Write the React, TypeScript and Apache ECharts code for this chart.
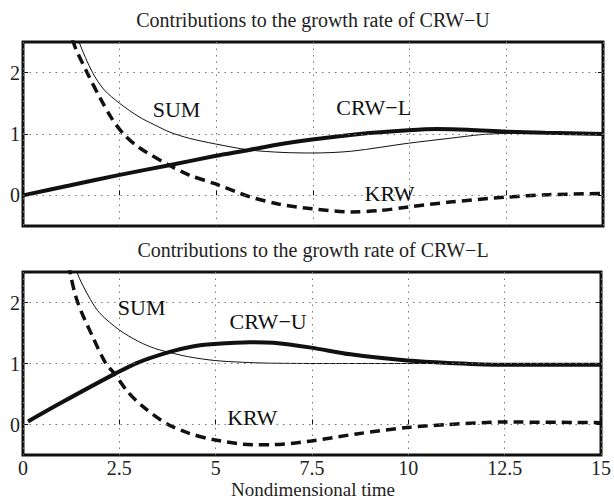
import React, { useEffect, useRef } from "react";
import * as echarts from "echarts";

const X_MIN = 0;
const X_MAX = 15;
const X_STEP = 2.5;
const Y_MIN = -0.5;
const Y_MAX = 2.5;
const Y_TICKS = [0, 1, 2];

const TITLES = [
  "Contributions to the growth rate of CRW\u2212U",
  "Contributions to the growth rate of CRW\u2212L",
];
const X_NAME = "Nondimensional time";

// top panel (growth rate of CRW-U)
const topSum: [number, number][] = [
  [1.15, 3.1], [1.45, 2.5], [1.8, 2.0], [2.1, 1.72], [2.5, 1.5], [3.0, 1.28],
  [3.4, 1.15], [3.8, 1.03], [4.3, 0.93], [4.96, 0.84], [5.85, 0.74], [6.7, 0.7],
  [7.48, 0.69], [8.5, 0.72], [9.97, 0.85], [11.04, 0.93], [11.85, 0.99],
  [12.48, 1.01], [13.5, 1.02], [15, 1.0],
];
const topKrw: [number, number][] = [
  [1.0, 3.3], [1.3, 2.5], [1.66, 2.0], [2.0, 1.58], [2.3, 1.25], [2.6, 1.0],
  [3.0, 0.78], [3.78, 0.49], [4.3, 0.33], [4.96, 0.19], [5.85, -0.02],
  [6.6, -0.14], [7.48, -0.22], [8.5, -0.27], [9.2, -0.25], [9.97, -0.19],
  [11.04, -0.11], [12.48, -0.03], [13.58, 0.01], [15, 0.03],
];
const topCrw: [number, number][] = [
  [0, 0], [1.2, 0.16], [2.47, 0.33], [3.78, 0.49], [4.96, 0.64], [5.85, 0.74],
  [6.6, 0.83], [7.48, 0.91], [8.7, 1.0], [9.97, 1.06], [10.7, 1.08],
  [11.5, 1.07], [12.48, 1.04], [13.5, 1.02], [15, 1.0],
];

// bottom panel (growth rate of CRW-L)
const botSum: [number, number][] = [
  [1.2, 3.1], [1.4, 2.5], [1.75, 2.05], [2.0, 1.82], [2.5, 1.55], [3.0, 1.36],
  [3.41, 1.25], [3.81, 1.18], [4.3, 1.11], [4.96, 1.05], [5.7, 1.02],
  [6.46, 1.005], [8, 1.0], [15, 1.0],
];
const botKrw: [number, number][] = [
  [1.0, 3.4], [1.22, 2.5], [1.42, 2.0], [1.8, 1.45], [2.15, 1.0], [2.38, 0.83],
  [2.7, 0.55], [3.1, 0.3], [3.71, 0.02], [4.3, -0.14], [4.96, -0.25],
  [5.95, -0.33], [6.46, -0.33], [7.48, -0.27], [8.7, -0.15], [9.97, -0.05],
  [11.04, 0.0], [12.48, 0.04], [15, 0.03],
];
const botCrw: [number, number][] = [
  [0.13, 0.05], [1.0, 0.36], [2.38, 0.83], [3.0, 1.02], [3.81, 1.19],
  [4.4, 1.28], [4.96, 1.32], [5.9, 1.35], [6.5, 1.34], [7.48, 1.26],
  [8.5, 1.15], [9.97, 1.05], [11.04, 1.01], [12.48, 0.98], [15, 0.98],
];

// curve labels [text, t, value]
const topLabels: [string, number, number][] = [
  ["SUM", 3.97, 1.4],
  ["CRW\u2212L", 9.07, 1.44],
  ["KRW", 9.48, 0.03],
];
const botLabels: [string, number, number][] = [
  ["SUM", 3.08, 1.92],
  ["CRW\u2212U", 6.36, 1.69],
  ["KRW", 5.95, 0.11],
];

const FONT = "Liberation Serif";
const INK = "#111";

export default function App() {
  const ref = useRef<HTMLDivElement>(null);

  useEffect(() => {
    if (!ref.current) return;
    const chart = echarts.init(ref.current, undefined, { renderer: "svg" });

    const grids = [
      { left: 23, right: 11, top: 42, height: 184 },
      { left: 23, right: 11, top: 272, height: 183 },
    ];

    const xAxes = [0, 1].map((g) => ({
      type: "value",
      gridIndex: g,
      min: X_MIN,
      max: X_MAX,
      interval: X_STEP,
      axisLine: { show: false },
      axisTick: { show: true, inside: true, length: 5, lineStyle: { color: INK, width: 1 } },
      axisLabel: {
        show: g === 1,
        color: "#222",
        fontFamily: FONT,
        fontSize: 20,
        lineHeight: 18,
        margin: 4,
      },
      splitLine: { show: true, lineStyle: { color: "#777", width: 1, type: [1.5, 5] } },
    }));

    const yAxes: any[] = [];
    [0, 1].forEach((g) => {
      yAxes.push({
        type: "value",
        gridIndex: g,
        position: "left",
        min: Y_MIN,
        max: Y_MAX,
        axisLine: { show: false },
        axisTick: { show: true, inside: true, length: 5, customValues: Y_TICKS, lineStyle: { color: INK, width: 1 } },
        axisLabel: { show: true, customValues: Y_TICKS, color: "#222", fontFamily: FONT, fontSize: 20, margin: 3 },
        splitLine: { show: false },
      });
      yAxes.push({
        type: "value",
        gridIndex: g,
        position: "right",
        min: Y_MIN,
        max: Y_MAX,
        axisLine: { show: false },
        axisTick: { show: true, inside: true, length: 5, customValues: Y_TICKS, lineStyle: { color: INK, width: 1 } },
        axisLabel: { show: false },
        splitLine: { show: false },
      });
    });

    const labelPoints = (labels: [string, number, number][]) => ({
      silent: true,
      symbol: "circle",
      symbolSize: 1,
      itemStyle: { color: "rgba(0,0,0,0)" },
      label: {
        show: true,
        position: "inside",
        color: INK,
        fontFamily: FONT,
        fontSize: 22,
        formatter: (p: any) => p.name,
      },
      data: labels.map(([name, t, v]) => ({ name, coord: [t, v] })),
    });

    const panel = (g: number, sum: any, krw: any, crw: any, labels: [string, number, number][]) => [
      {
        type: "line",
        xAxisIndex: g,
        yAxisIndex: g * 2,
        data: [],
        z: 1,
        silent: true,
        markLine: {
          silent: true,
          symbol: ["none", "none"],
          label: { show: false },
          lineStyle: { color: "#777", width: 1, type: [1.5, 5] },
          data: Y_TICKS.map((v) => ({ yAxis: v })),
        },
      },
      {
        type: "line",
        xAxisIndex: g,
        yAxisIndex: g * 2,
        data: sum,
        smooth: 0.3,
        showSymbol: false,
        lineStyle: { color: INK, width: 1 },
        z: 3,
        markPoint: labelPoints(labels),
      },
      {
        type: "line",
        xAxisIndex: g,
        yAxisIndex: g * 2,
        data: krw,
        smooth: 0.3,
        showSymbol: false,
        lineStyle: { color: INK, width: 3.5, type: [10, 6] },
        z: 3,
      },
      {
        type: "line",
        xAxisIndex: g,
        yAxisIndex: g * 2,
        data: crw,
        smooth: 0.3,
        showSymbol: false,
        lineStyle: { color: INK, width: 4 },
        z: 3,
      },
    ];

    chart.setOption({
      animation: false,
      backgroundColor: "#fff",
      textStyle: { fontFamily: FONT },
      grid: grids.map((gr) => ({
        ...gr,
        show: true,
        borderColor: INK,
        borderWidth: 3,
        backgroundColor: "transparent",
        containLabel: false,
      })),
      xAxis: xAxes,
      yAxis: yAxes,
      graphic: [
        {
          type: "text",
          x: 313,
          y: 20,
          style: { text: TITLES[0], fill: "#222", font: `20px "${FONT}"`, textAlign: "center", textVerticalAlign: "middle" },
        },
        {
          type: "text",
          x: 313,
          y: 250,
          style: { text: TITLES[1], fill: "#222", font: `20px "${FONT}"`, textAlign: "center", textVerticalAlign: "middle" },
        },
        {
          type: "text",
          x: 313,
          y: 489,
          style: { text: X_NAME, fill: "#222", font: `19px "${FONT}"`, lineHeight: 17, textAlign: "center", textVerticalAlign: "middle" },
        },
      ],
      series: [
        ...panel(0, topSum, topKrw, topCrw, topLabels),
        ...panel(1, botSum, botKrw, botCrw, botLabels),
      ],
    });

    return () => chart.dispose();
  }, []);

  return (
    <div
      ref={ref}
      style={{ position: "fixed", left: 0, top: 0, width: 614, height: 498, background: "#fff" }}
    />
  );
}
